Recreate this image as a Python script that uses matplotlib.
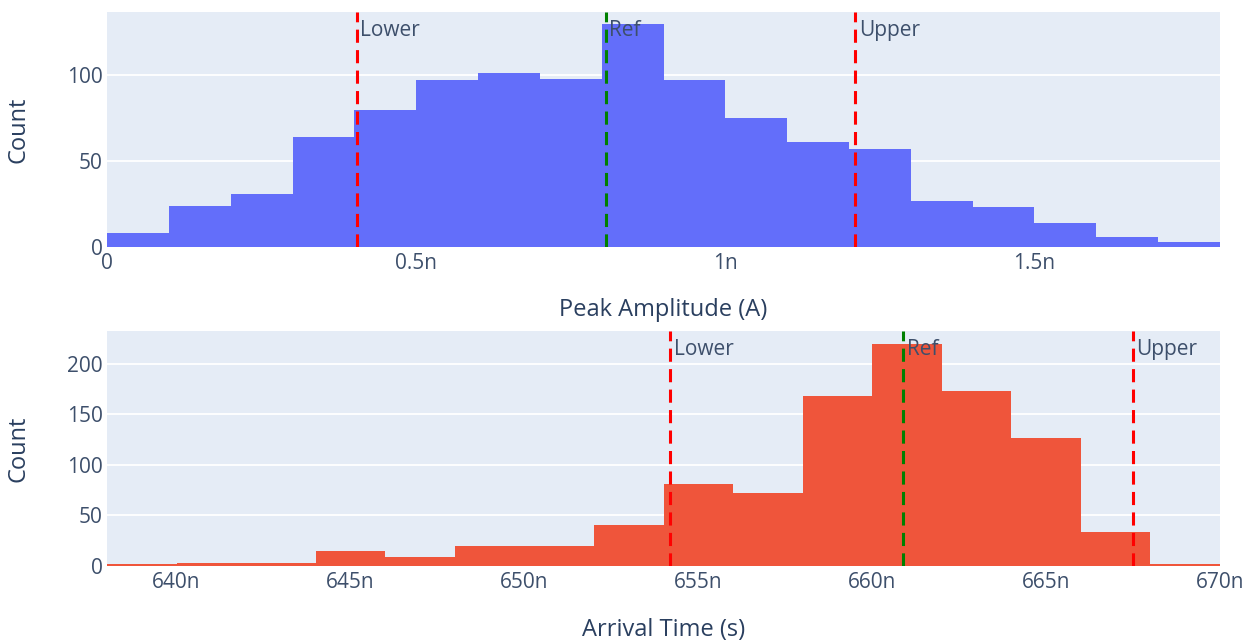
import numpy as np
import matplotlib
matplotlib.use("Agg")
import matplotlib.pyplot as plt
from matplotlib.ticker import FuncFormatter, FixedLocator

# ---- data (x values in nano-units) ----
amp_edges = [0.0, 0.1, 0.2, 0.3, 0.4, 0.5, 0.6, 0.7, 0.8, 0.9,
             1.0, 1.1, 1.2, 1.3, 1.4, 1.5, 1.6, 1.7, 1.8]
amp_counts = [8, 24, 31, 64, 80, 97, 101, 98, 130, 97,
              75, 61, 57, 27, 23, 14, 6, 3]
amp_lines = {"Lower": 0.4035, "Ref": 0.807, "Upper": 1.2105}
amp_ticks = [0, 0.5, 1.0, 1.5]

time_edges = [638, 640, 642, 644, 646, 648, 650, 652, 654, 656,
              658, 660, 662, 664, 666, 668, 670]
time_counts = [2, 3, 3, 15, 9, 20, 20, 41, 81, 72,
               168, 220, 173, 127, 34, 2]
time_lines = {"Lower": 654.2, "Ref": 660.9, "Upper": 667.5}
time_ticks = [640, 645, 650, 655, 660, 665, 670]

line_colors = {"Lower": "red", "Ref": "green", "Upper": "red"}

plt.rcParams['font.family'] = ['Open Sans', 'DejaVu Sans']
TXT = "#2a3f5f"
TICK = "#3d4f6b"
BG = "#E5ECF6"

fig = plt.figure(figsize=(12.55, 6.44), dpi=100)
ax1 = fig.add_axes([0.0853, 0.6165, 0.9721 - 0.0853, 0.9814 - 0.6165])
ax2 = fig.add_axes([0.0853, 0.1211, 0.9721 - 0.0853, 0.486 - 0.1211])


def nfmt(v, pos):
    if abs(v) < 1e-12:
        return "0"
    s = ("%g" % round(v, 6))
    return s + "n"


def draw(ax, edges, counts, color, lines, ticks, ylim, yticks, xlabel, xlab_y):
    ax.set_facecolor(BG)
    e = np.array(edges, dtype=float)
    ax.axhline(0, color='white', linewidth=2, zorder=1.5)
    ax.bar(e[:-1], counts, width=np.diff(e), align='edge', color=color,
           linewidth=0, zorder=2)
    ax.set_xlim(e[0], e[-1])
    ax.set_ylim(*ylim)
    ax.set_yticks(yticks)
    ax.xaxis.set_major_locator(FixedLocator(ticks))
    ax.xaxis.set_major_formatter(FuncFormatter(nfmt))
    ax.grid(axis='y', color='white', linewidth=1.3, zorder=1)
    ax.set_axisbelow(True)
    for sp in ax.spines.values():
        sp.set_visible(False)
    ax.tick_params(length=0, labelsize=15, labelcolor=TICK)
    ax.tick_params(axis='x', pad=4)
    ax.tick_params(axis='y', pad=3)
    for name, xv in lines.items():
        ax.axvline(xv, color=line_colors[name], linewidth=2.2,
                   dashes=(4.3, 2.4), zorder=4)
        ax.annotate(name, xy=(xv, 1.0), xycoords=('data', 'axes fraction'),
                    xytext=(2.5, -13), textcoords='offset points',
                    ha='left', va='center', fontsize=15, color=TICK, zorder=5)
    ax.set_xlabel(xlabel, fontsize=17, color=TXT)
    ax.set_ylabel("Count", fontsize=17, color=TXT)
    ax.xaxis.set_label_coords(0.5, xlab_y)
    ax.xaxis.label.set_va('center')
    ax.yaxis.set_label_coords(-0.08, 0.5)
    ax.yaxis.label.set_va('center')


draw(ax1, amp_edges, amp_counts, "#636EFA", amp_lines, amp_ticks,
     (0, 136.8), [0, 50, 100], "Peak Amplitude (A)", -0.268)
draw(ax2, time_edges, time_counts, "#EF553B", time_lines, time_ticks,
     (0, 232.6), [0, 50, 100, 150, 200], "Arrival Time (s)", -0.272)

fig.savefig("out.png", dpi=100, facecolor="white")
